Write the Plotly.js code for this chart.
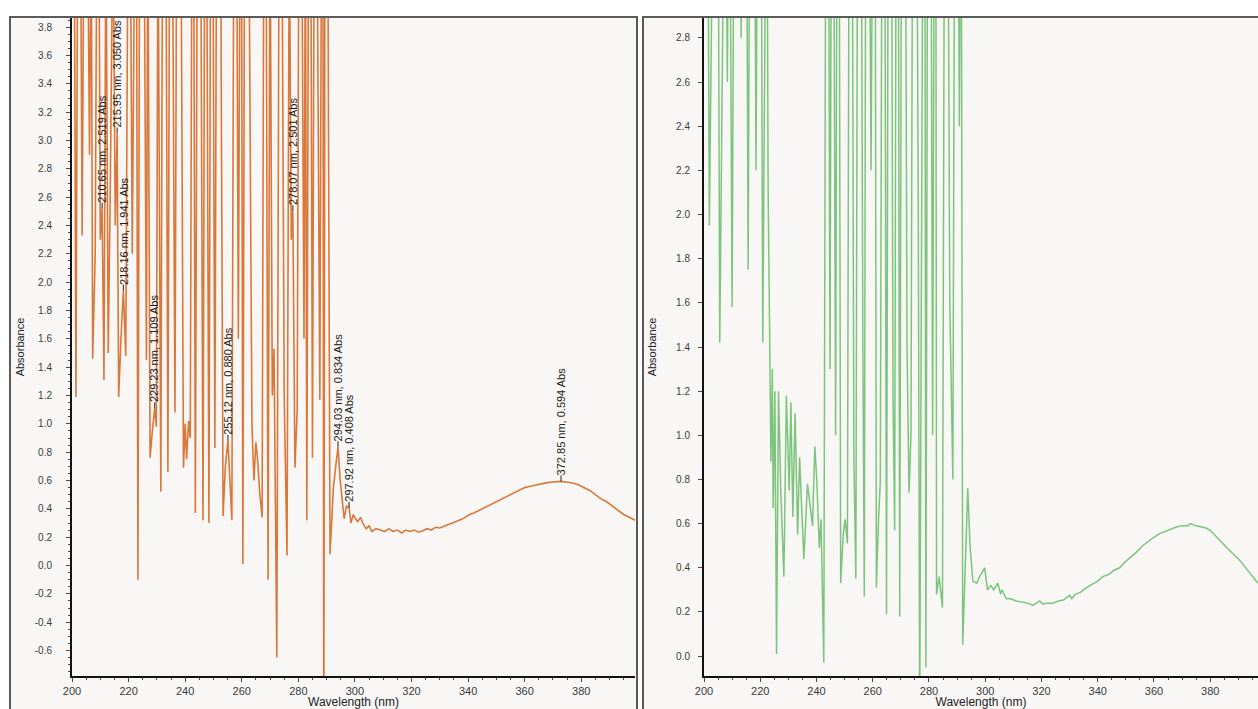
<!DOCTYPE html>
<html>
<head>
<meta charset="utf-8">
<script src="https://cdn.plot.ly/plotly-3.0.1.min.js"></script>
<style>
html,body{margin:0;padding:0;background:#ffffff;}
#chart{width:1258px;height:709px;}
</style>
</head>
<body>
<div id="chart"></div>
<script>
// ---- Left spectrum (orange) ----
const wavelengthA = [
200.0, 200.8, 201.4, 202.0, 203.0, 203.6, 204.2, 205.5, 206.2, 206.8,
207.3, 208.2, 208.8, 209.5, 210.0, 210.65, 211.3, 212.0, 212.8, 213.5,
214.5, 215.3, 215.95, 216.5, 217.3, 218.16, 219.0, 219.8, 220.6, 221.3,
222.2, 222.8, 223.3, 223.9, 225.5, 226.3, 226.8, 227.6, 228.4, 229.23,
229.8, 230.4, 231.4, 232.0, 233.2, 233.9, 234.5, 235.5, 236.4, 237.0,
238.5, 239.4, 240.0, 240.5, 241.2, 241.8, 242.4, 243.0, 243.6, 244.3,
245.5, 246.3, 246.9, 247.6, 248.4, 249.0, 249.8, 250.5, 251.1, 252.5,
253.4, 254.2, 255.12, 256.0, 256.5, 257.2, 258.2, 258.8, 259.4, 259.9,
260.4, 261.0, 262.5, 263.6, 264.3, 265.0, 265.6, 266.4, 267.2, 267.8,
268.6, 269.3, 270.0, 270.8, 271.4, 272.4, 273.2, 274.2, 275.0, 276.0,
276.8, 277.5, 278.07, 278.8, 279.6, 280.2, 281.2, 282.0, 282.5, 283.0,
283.6, 284.4, 285.0, 285.6, 286.6, 287.6, 288.2, 288.7, 289.0, 289.4,
290.4, 291.2, 292.4, 293.2, 294.03, 294.8, 295.5, 296.2, 297.0, 297.92,
298.6, 299.4, 300.2, 301.0, 302.0, 303.0, 304.0, 305.0, 306.0, 307.5,
309.0, 310.5, 312.0, 313.5, 315.0, 316.5, 318.0, 319.5, 321.0, 322.5,
324.0, 325.5, 327.0, 328.5, 330.0, 331.5, 333.0, 334.5, 336.0, 337.5,
339.0, 340.5, 342.0, 344.0, 346.0, 348.0, 350.0, 352.0, 354.0, 356.0,
358.0, 360.0, 362.0, 364.0, 366.0, 368.0, 370.0, 372.85, 375.0, 377.0,
379.0, 381.0, 383.0, 385.0, 387.0, 389.0, 391.0, 393.0, 395.0, 397.0,
399.0
];
const absorbanceA = [
4.6, 4.6, 1.19, 4.6, 4.6, 2.33, 4.6, 4.6, 2.9, 4.6,
1.46, 2.2, 4.6, 4.6, 2.3, 2.519, 1.31, 4.6, 1.5, 2.6,
4.6, 2.4, 3.05, 1.19, 1.6, 1.941, 1.48, 4.6, 4.6, 2.2,
4.6, 4.6, -0.1, 4.6, 4.6, 1.45, 4.6, 0.76, 0.95, 1.109,
0.98, 4.6, 0.52, 4.6, 4.6, 0.66, 4.6, 4.6, 1.08, 4.6,
4.6, 0.69, 1.0, 0.75, 1.02, 0.9, 4.6, 4.6, 0.37, 4.6,
4.6, 0.32, 4.6, 4.6, 0.30, 4.6, 4.6, 0.83, 4.6, 4.6,
0.35, 0.7, 0.88, 0.5, 0.32, 4.6, 4.6, 1.6, 4.6, 4.6,
0.01, 4.6, 4.6, 1.0, 0.6, 0.87, 0.75, 0.5, 0.34, 4.6,
4.6, -0.1, 4.6, 1.2, 1.53, -0.65, 4.6, 4.6, 1.2, 0.07,
4.6, 2.3, 2.501, 0.69, 1.1, 4.6, 4.6, 1.6, 4.6, 0.32,
4.6, 4.6, 0.76, 4.6, 4.6, 1.17, 4.6, 4.6, -1.5, 4.6,
4.6, 0.08, 0.55, 0.7, 0.834, 0.6, 0.45, 0.33, 0.42, 0.408,
0.3, 0.36, 0.33, 0.31, 0.34, 0.29, 0.26, 0.28, 0.24, 0.26,
0.25, 0.24, 0.26, 0.24, 0.25, 0.23, 0.25, 0.24, 0.25, 0.235,
0.245, 0.26, 0.25, 0.27, 0.265, 0.28, 0.29, 0.30, 0.31, 0.325,
0.34, 0.36, 0.37, 0.39, 0.41, 0.43, 0.45, 0.47, 0.49, 0.51,
0.53, 0.55, 0.56, 0.57, 0.58, 0.585, 0.59, 0.594, 0.588, 0.582,
0.57, 0.55, 0.53, 0.50, 0.47, 0.45, 0.42, 0.39, 0.36, 0.34,
0.32
];

// ---- Right spectrum (green) ----
const wavelengthB = [
200.0, 201.2, 201.9, 202.6, 203.6, 204.4, 204.9, 205.6, 206.4, 207.5,
208.3, 209.0, 210.0, 210.8, 212.5, 213.2, 214.0, 215.0, 215.7, 216.4,
217.8, 218.5, 219.2, 220.2, 220.9, 221.6, 222.3, 222.8, 223.8, 224.3,
224.6, 225.2, 225.8, 226.5, 227.3, 228.4, 229.3, 230.3, 230.9, 231.6,
232.4, 233.3, 234.0, 234.8, 235.5, 236.8, 237.6, 238.6, 239.4, 240.1,
241.0, 241.6, 242.6, 243.4, 244.2, 244.8, 245.4, 246.0, 246.8, 247.4,
248.0, 248.6, 249.5, 250.2, 251.0, 251.7, 252.6, 253.3, 254.0, 254.7,
255.8, 256.5, 257.0, 257.6, 258.6, 259.4, 260.2, 260.8, 261.3, 262.0,
262.7, 263.4, 264.2, 264.9, 265.6, 266.6, 267.2, 267.8, 268.4, 269.0,
269.6, 270.3, 271.5, 272.2, 272.9, 273.6, 274.3, 275.5, 276.2, 276.7,
277.4, 278.0, 278.5, 278.9, 279.6, 280.6, 281.3, 282.0, 282.4, 282.7,
283.6, 284.8, 285.6, 286.6, 287.4, 288.5, 289.2, 290.2, 290.8, 291.4,
292.0, 293.8, 294.6, 295.6, 297.0, 298.0, 299.8, 300.8, 302.0, 303.0,
304.5, 305.5, 306.0, 307.5, 309.0, 311.0, 313.0, 315.0, 317.0, 319.4,
320.5, 322.0, 324.0, 326.0, 328.0, 330.0, 330.8, 332.0, 334.0, 336.0,
338.0, 340.0, 341.8, 344.0, 346.0, 347.8, 350.0, 352.0, 353.7, 356.0,
358.0, 359.6, 362.0, 364.0, 366.0, 368.0, 370.0, 372.0, 373.0, 375.0,
377.0, 378.5, 380.0, 382.0, 384.5, 386.0, 388.0, 390.4, 392.0, 394.0,
396.3, 397.0
];
const absorbanceB = [
4, 4, 1.95, 4, 4, 2.9, 4, 1.42, 4, 4,
2.6, 4, 1.58, 4, 4, 2.8, 4, 4, 1.75, 4,
4, 2.2, 4, 4, 1.42, 4, 4, 2.12, 0.88, 1.3,
0.67, 1.2, 0.01, 1.2, 0.75, 0.36, 1.18, 0.75, 1.15, 0.63,
1.1, 0.55, 0.9, 0.65, 0.44, 0.78, 0.7, 0.59, 0.95, 0.8,
0.49, 0.62, -0.03, 4, 4, 1.3, 4, 4, 1.0, 4,
4, 0.33, 0.55, 0.62, 0.51, 4, 4, 0.9, 0.35, 4,
4, 1.4, 0.27, 4, 4, 2.2, 4, 4, 0.31, 0.6,
0.79, 4, 4, 0.19, 4, 4, 1.2, 0.57, 4, 4,
0.18, 4, 4, 1.4, 0.74, 1.01, 4, 4, 2.0, -0.3,
2.6, 4, 4, -0.05, 4, 4, 1.0, 4, 4, 0.28,
0.36, 0.22, 4, 4, 1.6, 0.80, 4, 4, 2.4, 4,
0.05, 0.76, 0.5, 0.34, 0.33, 0.36, 0.40, 0.30, 0.32, 0.30,
0.33, 0.28, 0.30, 0.26, 0.26, 0.25, 0.245, 0.24, 0.23, 0.25,
0.235, 0.24, 0.24, 0.25, 0.255, 0.275, 0.26, 0.28, 0.29, 0.31,
0.325, 0.34, 0.36, 0.37, 0.39, 0.40, 0.43, 0.45, 0.47, 0.50,
0.52, 0.535, 0.555, 0.565, 0.575, 0.585, 0.59, 0.59, 0.60, 0.59,
0.585, 0.58, 0.57, 0.545, 0.51, 0.49, 0.465, 0.435, 0.41, 0.38,
0.345, 0.33
];

// ---- Peak labels (left panel) ----
const peakWavelength = [210.65, 215.95, 218.16, 229.23, 255.12, 278.07, 294.03, 297.92, 372.85];
const peakAbsorbance = [2.519, 3.050, 1.941, 1.109, 0.880, 2.501, 0.834, 0.408, 0.594];

// ---- Tick labels ----
const xTickVals = [200, 220, 240, 260, 280, 300, 320, 340, 360, 380];
const xTickText = ['200', '220', '240', '260', '280', '300', '320', '340', '360', '380'];
const yTickValsA = [-0.6, -0.4, -0.2, 0.0, 0.2, 0.4, 0.6, 0.8, 1.0, 1.2, 1.4, 1.6, 1.8, 2.0, 2.2, 2.4, 2.6, 2.8, 3.0, 3.2, 3.4, 3.6, 3.8];
const yTickTextA = ['-0.6', '-0.4', '-0.2', '0.0', '0.2', '0.4', '0.6', '0.8', '1.0', '1.2', '1.4', '1.6', '1.8', '2.0', '2.2', '2.4', '2.6', '2.8', '3.0', '3.2', '3.4', '3.6', '3.8'];
const yTickValsB = [0.0, 0.2, 0.4, 0.6, 0.8, 1.0, 1.2, 1.4, 1.6, 1.8, 2.0, 2.2, 2.4, 2.6, 2.8];
const yTickTextB = ['0.0', '0.2', '0.4', '0.6', '0.8', '1.0', '1.2', '1.4', '1.6', '1.8', '2.0', '2.2', '2.4', '2.6', '2.8'];

const W = 1258, H = 709;
const FONT = 'Liberation Sans, Arial, sans-serif';
const xTickFont = {family: FONT, size: 11, color: '#3a3a3a'};
const yTickFont = {family: FONT, size: 10, color: '#3a3a3a'};
const xTitleFont = {family: FONT, size: 12, color: '#222'};
const yTitleFont = {family: FONT, size: 11, color: '#222'};
const LABEL_SIZE = 11;

const traces = [
  {x: wavelengthA, y: absorbanceA, type: 'scatter', mode: 'lines', xaxis: 'x', yaxis: 'y',
   line: {color: '#d9783a', width: 1.6}, hoverinfo: 'skip'},
  {x: wavelengthB, y: absorbanceB, type: 'scatter', mode: 'lines', xaxis: 'x2', yaxis: 'y2',
   line: {color: '#7cc47c', width: 1.5}, hoverinfo: 'skip'}
];

const annotations = peakWavelength.map((wl, i) => ({
  x: wl, y: peakAbsorbance[i], xref: 'x', yref: 'y',
  text: wl.toFixed(2) + ' nm, ' + peakAbsorbance[i].toFixed(3) + ' Abs',
  textangle: -90, showarrow: false, xanchor: 'center', yanchor: 'middle',
  yshift: 60, xshift: 0,
  font: {family: FONT, size: LABEL_SIZE, color: '#1a1a1a'}
}));
const leaders = peakWavelength.map((wl, i) => ({
  type: 'line', xref: 'x', yref: 'y', x0: wl, x1: wl,
  ysizemode: 'pixel', yanchor: peakAbsorbance[i], y0: 0, y1: 6,
  line: {color: '#222', width: 1}
}));

function xAxis(domain, range) {
  return {
    domain: domain, range: range, autorange: false,
    tickmode: 'array', tickvals: xTickVals, ticktext: xTickText,
    ticks: 'outside', ticklen: 4, tickwidth: 1, tickcolor: '#444',
    minor: {tickmode: 'linear', tick0: 200, dtick: 5, ticks: 'outside', ticklen: 2, tickcolor: '#444'},
    showline: true, linecolor: '#111', linewidth: 2, mirror: false,
    showgrid: false, zeroline: false, tickfont: xTickFont, automargin: false,
    title: {text: 'Wavelength (nm)', font: xTitleFont, standoff: 2}
  };
}
function yAxis(range, vals, text, minor, labelGap, titleGap) {
  const ax = {
    domain: [1 - 676 / H, 1 - 18 / H], range: range, autorange: false,
    tickmode: 'array', tickvals: vals, ticktext: text,
    ticks: 'outside', ticklen: 4, tickwidth: 1, tickcolor: '#444',
    ticklabelstandoff: labelGap,
    showline: true, linecolor: '#111', linewidth: 2,
    showgrid: false, zeroline: false, tickfont: yTickFont, automargin: false,
    title: {text: 'Absorbance', font: yTitleFont, standoff: titleGap}
  };
  if (minor) ax.minor = {tickmode: 'linear', tick0: 0, dtick: 0.05, ticks: 'outside', ticklen: 2, tickcolor: '#444'};
  return ax;
}

const layout = {
  width: W, height: H,
  margin: {l: 0, r: 0, t: 0, b: 0},
  paper_bgcolor: '#ffffff', plot_bgcolor: 'rgba(0,0,0,0)',
  showlegend: false,
  xaxis: Object.assign(xAxis([72 / W, 635 / W], [200, 399]), {anchor: 'y'}),
  yaxis: Object.assign(yAxis([-0.78, 3.865], yTickValsA, yTickTextA, true, 12, 8), {anchor: 'x'}),
  xaxis2: Object.assign(xAxis([704 / W, 1], [200, 397]), {anchor: 'y2'}),
  yaxis2: Object.assign(yAxis([-0.09, 2.89], yTickValsB, yTickTextB, false, 6, 17), {anchor: 'x2'}),
  shapes: [
    {type: 'rect', xref: 'paper', yref: 'paper', layer: 'below',
     x0: 10 / W, x1: 637 / W, y0: -0.05, y1: 1 - 17 / H,
     fillcolor: '#f8f7f5', line: {color: '#5a5a5a', width: 2}},
    {type: 'rect', xref: 'paper', yref: 'paper', layer: 'below',
     x0: 643 / W, x1: 1.05, y0: -0.05, y1: 1 - 17 / H,
     fillcolor: '#f8f7f5', line: {color: '#5a5a5a', width: 2}}
  ].concat(leaders),
  annotations: annotations
};

Plotly.newPlot('chart', traces, layout, {staticPlot: true, displayModeBar: false});
</script>
</body>
</html>
